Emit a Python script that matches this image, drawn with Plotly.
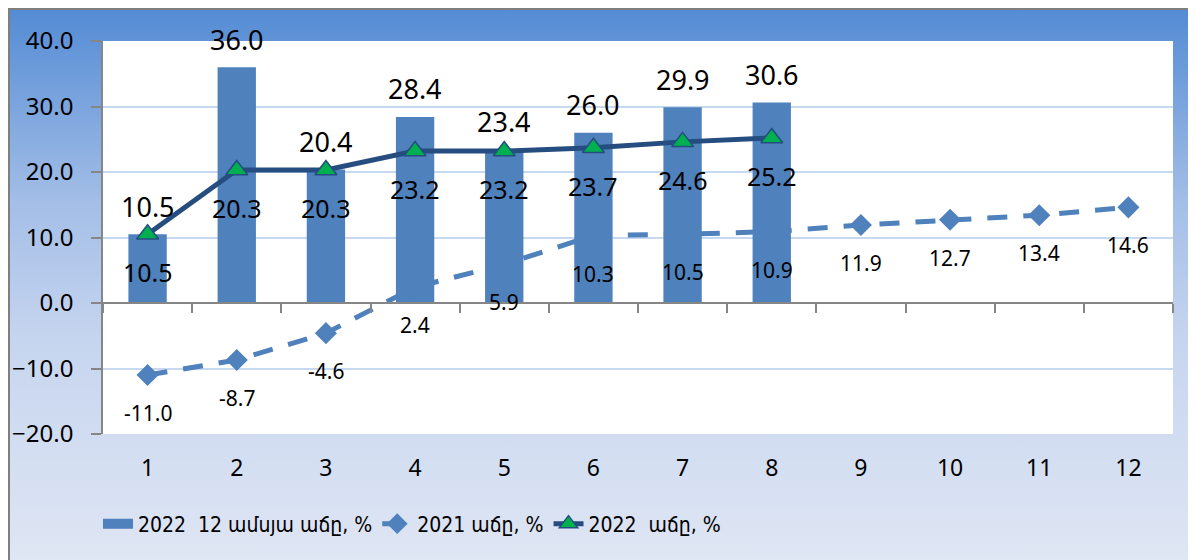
import base64
import plotly.graph_objects as go

months = list(range(1, 13))
month_labels = [str(m) for m in months]

bar_name = "2022  12 ամսյա աճը, %"
bar_months = [1, 2, 3, 4, 5, 6, 7, 8]
bar_values = [10.5, 36.0, 20.4, 28.4, 23.4, 26.0, 29.9, 30.6]

y2021_name = "2021 աճը, %"
y2021_values = [-11.0, -8.7, -4.6, 2.4, 5.9, 10.3, 10.5, 10.9, 11.9, 12.7, 13.4, 14.6]

y2022_name = "2022  աճը, %"
y2022_months = [1, 2, 3, 4, 5, 6, 7, 8]
y2022_values = [10.5, 20.3, 20.3, 23.2, 23.2, 23.7, 24.6, 25.2]

BAR_COLOR = "#4f81bd"
FONT = "Noto Sans, DejaVu Sans, sans-serif"
LEG_FONT = "DejaVu Sans Condensed, DejaVu Sans, sans-serif"

# background gradient as an svg image
svg = (
    '<svg xmlns="http://www.w3.org/2000/svg" width="100" height="100" preserveAspectRatio="none">'
    '<defs><linearGradient id="g" x1="0" y1="0" x2="0" y2="1">'
    '<stop offset="0" stop-color="#538bd4"/>'
    '<stop offset="0.35" stop-color="#a3bee7"/>'
    '<stop offset="0.6" stop-color="#c6d5ef"/>'
    '<stop offset="1" stop-color="#dfe6f4"/>'
    '</linearGradient></defs>'
    '<rect width="100" height="100" fill="url(#g)"/></svg>'
)
bg_src = "data:image/svg+xml;base64," + base64.b64encode(svg.encode()).decode()

OFF = 8  # page body margin
W, H = 1196 - OFF, 560 - OFF
L, T = 103 - OFF, 41 - OFF
R = W - (1173 - OFF)
B = H - (434 - OFF)
pw, ph = W - L - R, H - T - B

def px_x(p):
    return (p - L) / pw

def px_y(p):
    return (H - B - p) / ph

fig = go.Figure()

fig.add_trace(go.Bar(
    x=bar_months, y=bar_values, name=bar_name, showlegend=False,
    marker=dict(color=BAR_COLOR, line=dict(width=0)),
    width=0.43,
))
# legend entry for the bars (wide rectangle swatch)
fig.add_trace(go.Scatter(
    x=[None], y=[None], name=bar_name, mode="lines",
    line=dict(color=BAR_COLOR, width=16),
))

fig.add_trace(go.Scatter(
    x=months, y=y2021_values, name=y2021_name, mode="lines+markers",
    line=dict(color=BAR_COLOR, width=5, dash="20px,16px"),
    marker=dict(symbol="diamond", size=17, color=BAR_COLOR),
))

fig.add_trace(go.Scatter(
    x=y2022_months, y=y2022_values, name=y2022_name, mode="lines+markers",
    xaxis="x2",
    line=dict(color="#254d80", width=5),
    marker=dict(symbol="triangle-up", size=19, color="#00b050",
                line=dict(color="#254d80", width=1.5)),
))

annotations = []
for m, v in zip(bar_months, bar_values):
    annotations.append(dict(x=m, y=v, text=f"{v:.1f}", showarrow=False,
                            yshift=28, font=dict(size=27, color="black", family=FONT)))
for m, v in zip(y2022_months, y2022_values):
    annotations.append(dict(x=m, y=v, text=f"{v:.1f}", showarrow=False,
                            yshift=-38, font=dict(size=25, color="black", family=FONT)))
for m, v in zip(months, y2021_values):
    annotations.append(dict(x=m, y=v, text=f"{v:.1f}", showarrow=False,
                            yshift=-38, font=dict(size=21, color="black", family=FONT)))

fig.update_layout(
    width=W, height=H,
    margin=dict(l=L, r=R, t=T, b=B, autoexpand=False),
    paper_bgcolor="white",
    plot_bgcolor="white",
    showlegend=True,
    annotations=annotations,
    images=[dict(source=bg_src, xref="paper", yref="paper",
                 x=px_x(0), y=px_y(0), sizex=W / pw, sizey=H / ph,
                 xanchor="left", yanchor="top", sizing="stretch", layer="below")],
    shapes=[
        dict(type="rect", xref="paper", yref="paper", x0=0, x1=1, y0=0, y1=1,
             fillcolor="white", line=dict(width=0), layer="below"),
        dict(type="line", xref="paper", yref="paper", x0=px_x(0), x1=px_x(W), y0=px_y(1), y1=px_y(1),
             line=dict(color="#7f7f7f", width=2)),
        dict(type="line", xref="paper", yref="paper", x0=px_x(1), x1=px_x(1), y0=px_y(0), y1=px_y(H),
             line=dict(color="#7f7f7f", width=2)),
    ],
    legend=dict(orientation="h", x=px_x(98 - OFF), y=px_y(524 - OFF), xanchor="left", yanchor="middle",
                font=dict(size=21, family=LEG_FONT, color="black"),
                bgcolor="rgba(0,0,0,0)", traceorder="normal"),
    xaxis=dict(range=[0.5, 12.5], tickmode="array", tickvals=months, ticktext=month_labels,
               showgrid=False, zeroline=False, showline=False, ticks="", automargin=False,
               tickfont=dict(size=23, family=FONT, color="black"), ticklabelstandoff=18),
    xaxis2=dict(range=[0.5, 12.5], overlaying="x", anchor="free", position=1/3,
                tickmode="array", tickvals=[m + 0.5 for m in [0] + months],
                showticklabels=False, ticks="outside", ticklen=9, tickcolor="#868686", tickwidth=1.5,
                showline=True, linecolor="#868686", linewidth=1.5, showgrid=False, zeroline=False),
    yaxis=dict(range=[-20, 40], dtick=10, tickformat=".1f", showgrid=True,
               gridcolor="#c6d9f1", gridwidth=2, zeroline=False, automargin=False,
               showline=True, linecolor="#868686", linewidth=1.5,
               ticks="outside", ticklen=10, tickcolor="#868686", tickwidth=1.5,
               tickfont=dict(size=24, family=FONT, color="black"), ticklabelstandoff=13),
)

fig.write_html("out.html")
